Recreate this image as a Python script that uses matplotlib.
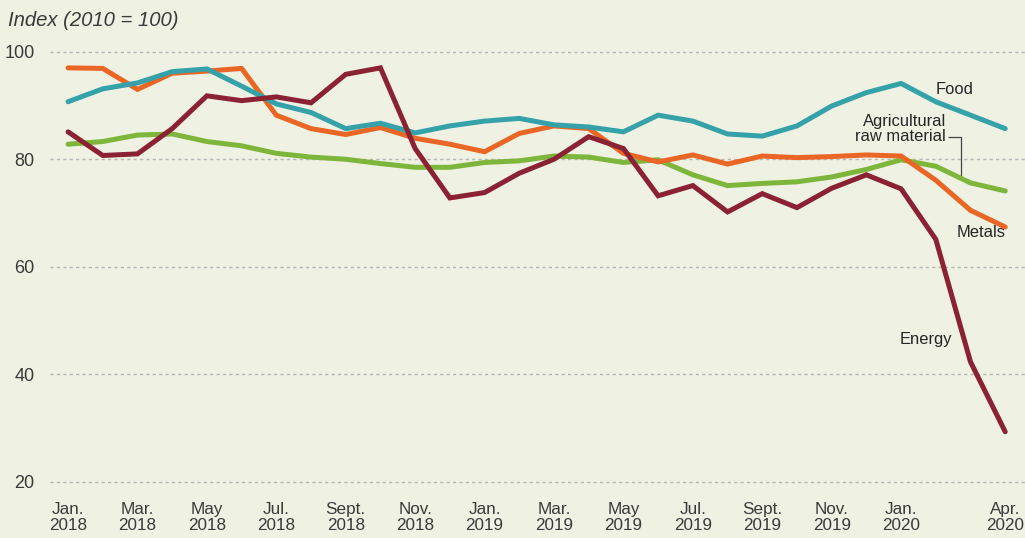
import matplotlib
matplotlib.use("Agg")
import matplotlib.pyplot as plt
import numpy as np

months = ["Jan. 2018", "Feb. 2018", "Mar. 2018", "Apr. 2018", "May 2018", "Jun. 2018",
          "Jul. 2018", "Aug. 2018", "Sept. 2018", "Oct. 2018", "Nov. 2018", "Dec. 2018",
          "Jan. 2019", "Feb. 2019", "Mar. 2019", "Apr. 2019", "May 2019", "Jun. 2019",
          "Jul. 2019", "Aug. 2019", "Sept. 2019", "Oct. 2019", "Nov. 2019", "Dec. 2019",
          "Jan. 2020", "Feb. 2020", "Mar. 2020", "Apr. 2020"]

food = [90.7, 93.1, 94.2, 96.3, 96.8, 93.6, 90.3, 88.7, 85.7, 86.7, 84.9, 86.2,
        87.1, 87.6, 86.4, 86.0, 85.1, 88.2, 87.1, 84.7, 84.3, 86.2, 89.9, 92.4,
        94.1, 90.7, 88.2, 85.7]
metals = [97.0, 96.9, 93.0, 96.0, 96.4, 96.9, 88.2, 85.7, 84.6, 85.9, 83.9, 82.8,
          81.4, 84.8, 86.2, 85.7, 81.1, 79.5, 80.8, 79.1, 80.6, 80.3, 80.5, 80.8,
          80.6, 76.1, 70.5, 67.4]
agri = [82.8, 83.3, 84.5, 84.7, 83.3, 82.5, 81.1, 80.4, 80.0, 79.2, 78.5, 78.5,
        79.4, 79.7, 80.6, 80.4, 79.4, 79.9, 77.1, 75.1, 75.5, 75.8, 76.7, 78.1,
        79.9, 78.7, 75.6, 74.1]
energy = [85.1, 80.7, 81.0, 85.7, 91.8, 90.9, 91.6, 90.5, 95.8, 97.0, 82.0, 72.8,
          73.8, 77.4, 80.0, 84.2, 82.0, 73.2, 75.1, 70.2, 73.6, 71.0, 74.6, 77.1,
          74.5, 65.1, 42.3, 29.3]

tick_idx = [0, 2, 4, 6, 8, 10, 12, 14, 16, 18, 20, 22, 24, 27]
y_ticks = [20, 40, 60, 80, 100]

bg = "#EFF1E3"
c_food = "#35A1A9"
c_metals = "#EA6625"
c_agri = "#7DB63A"
c_energy = "#8A2233"
txt = "#262626"

fig = plt.figure(figsize=(10.25, 5.38), dpi=100, facecolor=bg)
ax = fig.add_axes([50 / 1025, 45.5 / 538, 975 / 1025, 451.5 / 538])
ax.set_facecolor(bg)

x = np.arange(len(months))
kw = dict(lw=3.6, solid_capstyle="round", solid_joinstyle="miter")
ax.plot(x, agri, color=c_agri, zorder=3, **kw)
ax.plot(x, metals, color=c_metals, zorder=4, **kw)
ax.plot(x, food, color=c_food, zorder=5, **kw)
ax.plot(x, energy, color=c_energy, zorder=6, **kw)

ax.set_xlim(-0.52, 27.57)
ax.set_ylim(18, 102)
ax.set_yticks(y_ticks)
ax.set_yticklabels([str(v) for v in y_ticks], fontsize=13,
                   family=["Liberation Sans", "DejaVu Sans"], color="#3a3a3a")
ax.set_xticks(tick_idx)
ax.set_xticklabels([months[i].replace(" ", "\n") for i in tick_idx], fontsize=12.3,
                   family=["Liberation Sans Narrow", "Liberation Sans", "DejaVu Sans"],
                   color="#3a3a3a", linespacing=1.1)
ax.tick_params(axis="both", length=0)
ax.tick_params(axis="y", pad=11)
ax.tick_params(axis="x", pad=6.5)
for s in ax.spines.values():
    s.set_visible(False)
ax.grid(axis="y", color="#b5b5b5", lw=1.0, dashes=(2.3, 2.3), zorder=1)
ax.set_axisbelow(True)

lab = dict(fontsize=11.9, color=txt, family=["Liberation Sans", "DejaVu Sans"])
ax.text(25.0, 93.0, "Food", ha="left", va="center", **lab)
ax.text(25.3, 85.6, "Agricultural\nraw material", ha="right", va="center",
        multialignment="right", linespacing=0.95, **lab)
ax.text(27.0, 66.3, "Metals", ha="right", va="center", **lab)
ax.text(25.47, 46.5, "Energy", ha="right", va="center", **lab)
ax.plot([25.35, 25.72, 25.72], [84.05, 84.05, 76.5], color="#444444", lw=0.9,
        zorder=2, solid_capstyle="butt")

fig.text(8 / 1025, 1 - 20 / 538, "Index (2010 = 100)", fontsize=14.6, style="italic",
         color="#3a3a3a", va="center", ha="left",
         family=["Liberation Sans", "DejaVu Sans"])

fig.savefig("out.png", dpi=100, facecolor=bg)
